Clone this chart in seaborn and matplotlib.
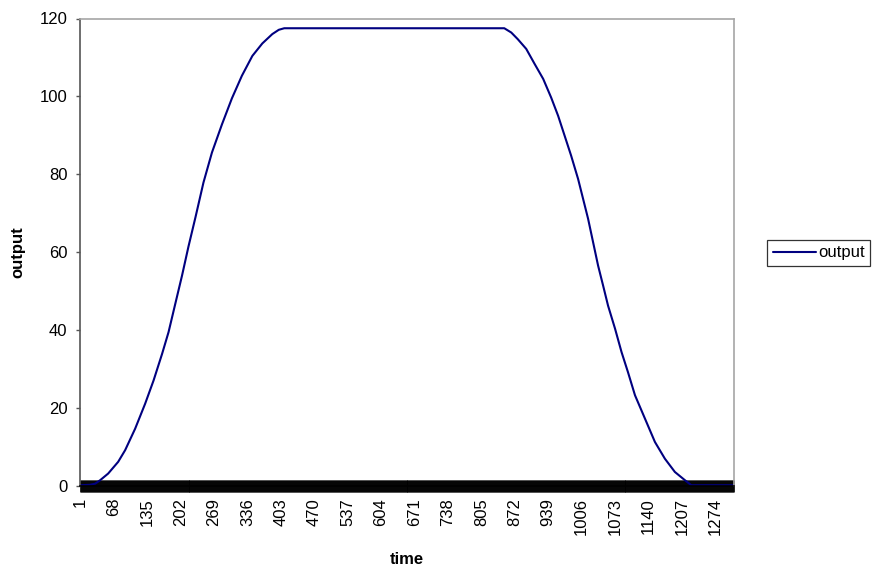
import matplotlib
matplotlib.use("Agg")
import matplotlib.pyplot as plt
import seaborn as sns
import pandas as pd
import numpy as np

# ---- data (time index, output value) ----
time_rise = [1, 20, 31, 41, 57, 77, 91, 111, 131, 148, 165, 178, 191, 205, 218,
             232, 248, 265, 285, 305, 325, 346, 366, 386, 399, 410]
out_rise = [0.2, 0.3, 0.6, 1.5, 3.2, 6.2, 9.2, 14.7, 21.1, 27.1, 33.9, 39.5, 46.5,
            54.0, 61.5, 69.0, 77.9, 85.6, 92.8, 99.5, 105.3, 110.4, 113.6, 116.0,
            117.1, 117.5]
time_fall = [851, 865, 878, 895, 912, 929, 945, 959, 972, 985, 999, 1009, 1019,
             1029, 1039, 1049, 1059, 1073, 1086, 1099, 1113, 1133, 1153, 1173,
             1193, 1213, 1226, 1311]
out_fall = [117.5, 116.4, 114.7, 112.2, 108.3, 104.5, 99.7, 95.0, 89.9, 84.8,
            78.8, 73.7, 68.6, 62.6, 56.6, 51.5, 46.3, 40.4, 34.4, 29.2, 23.3,
            17.3, 11.3, 7.0, 3.6, 1.5, 0.2, 0.2]
n_categories = 1311
tick_labels = [1, 68, 135, 202, 269, 336, 403, 470, 537, 604, 671, 738, 805, 872,
               939, 1006, 1073, 1140, 1207, 1274]
y_ticks = [0, 20, 40, 60, 80, 100, 120]

df = pd.DataFrame({"time": time_rise + time_fall, "output": out_rise + out_fall})

sns.set_style("white")
plt.rcParams["font.family"] = ["Liberation Sans", "DejaVu Sans"]
plt.rcParams["text.color"] = "black"
plt.rcParams["axes.labelcolor"] = "black"
plt.rcParams["xtick.labelcolor"] = "black"
plt.rcParams["ytick.labelcolor"] = "black"

FS = 12
W, H = 878, 569
fig = plt.figure(figsize=(W / 100, H / 100), dpi=100)
ax = fig.add_axes([80 / W, 1 - 486 / H, (734 - 80) / W, (486 - 18.5) / H])

sns.lineplot(data=df, x="time", y="output", ax=ax, color="#000080",
             linewidth=1.5, label="output", legend=False)

ax.set_xlim(0.5, n_categories + 0.5)
ax.set_ylim(0, 120)

# x axis: a tick at every category, labels every 67
ax.set_xticks(tick_labels)
ax.set_xticklabels([str(t) for t in tick_labels], rotation=90, fontsize=FS,
                   va="top", color="black")
ax.set_xticks(np.arange(1, n_categories + 1), minor=True)
ax.tick_params(axis="x", which="both", direction="inout", length=8,
               width=0.6, color="black", pad=4.5, bottom=True)

ax.set_yticks(y_ticks)
ax.set_yticklabels([str(v) for v in y_ticks], fontsize=FS, color="black")
ax.tick_params(axis="y", which="major", direction="out", length=3,
               width=1, color="#555555", pad=6, left=True)

for side in ["top", "right"]:
    ax.spines[side].set_color("#a6a6a6")
    ax.spines[side].set_linewidth(1.2)
ax.spines["left"].set_color("#555555")
ax.spines["left"].set_linewidth(1.2)
ax.spines["bottom"].set_color("black")
ax.spines["bottom"].set_linewidth(1.2)

ax.set_xlabel("time", fontsize=FS, fontweight="bold", labelpad=12, color="black")
ax.set_ylabel("output", fontsize=FS, fontweight="bold", labelpad=10, color="black")

handles, labels = ax.get_legend_handles_labels()
leg = fig.legend(handles, labels, loc="center left",
                 bbox_to_anchor=(767 / W, 1 - 253 / H), fontsize=FS,
                 frameon=True, fancybox=False, edgecolor="black",
                 handlelength=2.6, handletextpad=0.1, borderpad=0.35,
                 borderaxespad=0, labelcolor="black")
leg.get_frame().set_linewidth(0.9)

fig.savefig("out.png", dpi=100, facecolor="white")
